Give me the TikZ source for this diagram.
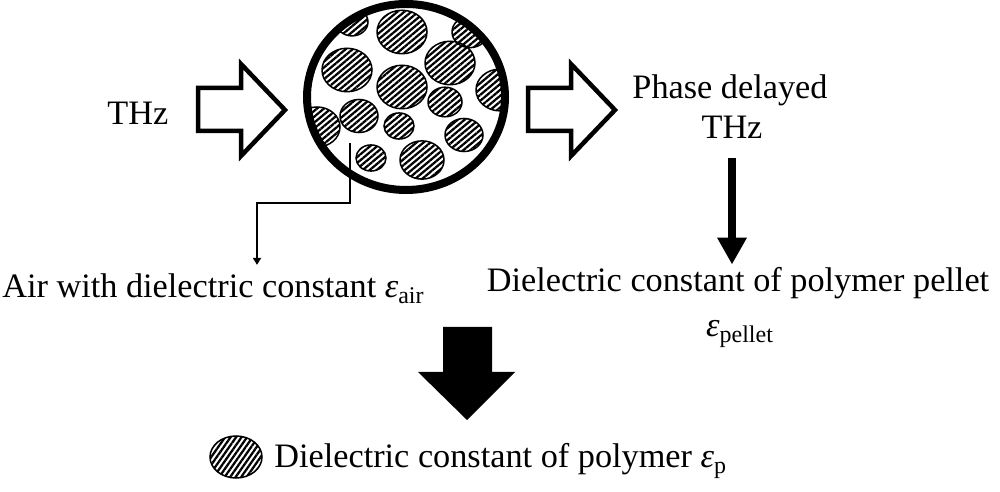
\documentclass[tikz,border=0pt]{standalone}
\usepackage{fontspec}
\setmainfont{Liberation Serif}
\usetikzlibrary{arrows.meta,patterns.meta}

\tikzset{
  label text/.style={inner sep=0pt, font=\fontsize{19.5}{23}\selectfont},
  grain/.style={draw=black, line width=0.03cm,
    pattern={Lines[angle=40,distance=0.09cm,line width=0.045cm]}},
  hollow arrow/.style={draw=black, line width=0.09cm, line join=miter, fill=white},
  thin arrow/.style={line width=0.04cm, -{Triangle[width=0.16cm,length=0.14cm]}},
  thick arrow/.style={line width=0.16cm, -{Triangle[width=0.56cm,length=0.54cm]}},
}

\begin{document}
\begin{tikzpicture}[x=0.02cm,y=-0.02cm]
      \useasboundingbox (0,0) rectangle (1000,492);
      % polymer grains in the pellet
      \begin{scope}
        \clip (406,97) ellipse [x radius=99, y radius=93];
        \foreach \cx/\cy/\r in {352/22/16, 402/32/25, 470/32/18, 347/70/25,
                                402/87/25, 450/63/25, 500/90/24, 445/102/17,
                                317/127/23, 359/116/19, 399/126/15, 464/135/19,
                                371/158/15, 422/160/22}
          \draw[grain] (\cx,\cy) ellipse [x radius=\r, y radius=0.87*\r];
      \end{scope}
      \draw[line width=0.16cm] (406,97) ellipse [x radius=99, y radius=93];
      % THz in and out
      \foreach \dx in {0,330}
        \draw[hollow arrow] (198+\dx,88) -- (241+\dx,88) -- (241+\dx,64) -- (285+\dx,110)
          -- (241+\dx,156) -- (241+\dx,131) -- (198+\dx,131) -- cycle;
      \node[label text, anchor=base west] (thz) at (107,125) {THz};
      \node[label text, anchor=base] (delayed) at (730,99) {Phase delayed};
      \node[label text, anchor=base] (delthz) at (732,139) {THz};
      \node[label text, anchor=base west] (air) at (2,298) {Air with dielectric constant \textit{ε}\textsubscript{air}};
      \node[label text, anchor=base] (pellet) at (738,292) {Dielectric constant of polymer pellet};
      \node[label text, anchor=base] (pelleteps) at (740,337) {\textit{ε}\textsubscript{pellet}};
      % air between the grains
      \coordinate (inside) at (350,143);
      \coordinate (corner) at (257,203);
      \draw[thin arrow, shorten >=0.18cm] (inside) |- (corner) -- (corner |- air.north);
      \draw[thick arrow, shorten <=0.38cm, shorten >=0.06cm] (delthz.south) -- (delthz.south |- pellet.north);
      % result
      \fill (443,327) -- (492,327) -- (492,372) -- (515,372) -- (467,420) -- (418,372) -- (443,372) -- cycle;
      \draw[grain, pattern={Lines[angle=55,distance=0.09cm,line width=0.045cm]}] (236,457) ellipse [x radius=26, y radius=21];
      \node[label text, anchor=base west] (polymer) at (274,468) {Dielectric constant of polymer \textit{ε}\textsubscript{p}};
\end{tikzpicture}
\end{document}
